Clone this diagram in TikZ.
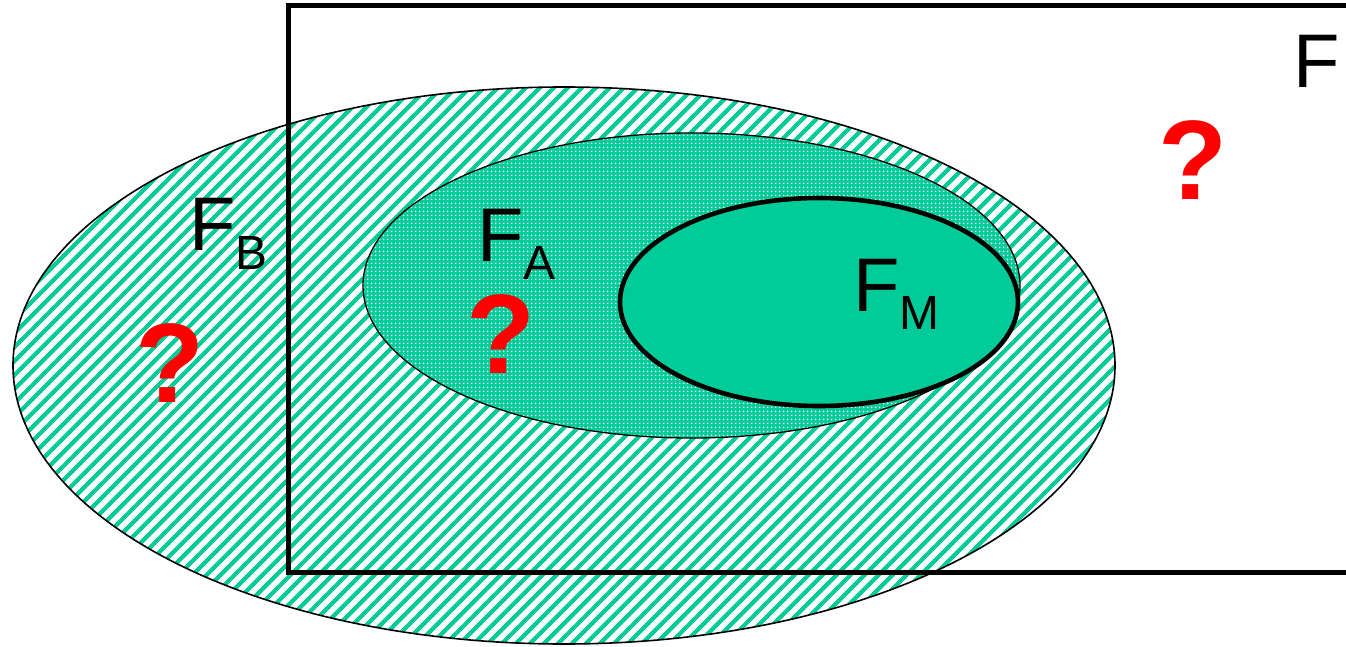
\documentclass[tikz,border=0pt]{standalone}
\usepackage{fontspec}
\setmainfont{Liberation Sans}
\usetikzlibrary{patterns.meta}
\definecolor{setteal}{RGB}{0,204,153}
\definecolor{qred}{RGB}{255,0,0}
\tikzset{
  biglabel/.style={anchor=base west, inner sep=0pt, font=\fontsize{76}{76}\selectfont},
  qmark/.style={anchor=base west, inner sep=0pt, text=qred, font=\fontsize{113}{113}\selectfont\bfseries},
  hatchset/.style={pattern={Lines[angle=45,distance=10.5pt,line width=4.6pt]}, pattern color=setteal},
  dotset/.style={preaction={fill=setteal}, pattern={Dots[radius=1.1pt,distance=4pt]}, pattern color=white},
}
\newcommand{\subl}[1]{\raisebox{-18pt}{\fontsize{48}{48}\selectfont #1}}
\begin{document}
\begin{tikzpicture}[x=1pt,y=-1pt]
\useasboundingbox (0,0) rectangle (1346,647);
\clip (0,0) rectangle (1346,647);
% F_B ellipse (hatched)
\path[hatchset] (564,365.5) ellipse [x radius=551, y radius=278.5];
\draw[line width=1.6pt] (564,365.5) ellipse [x radius=551, y radius=278.5];
% F rectangle
\draw[line width=5pt] (288,6) rectangle (1360,572);
% F_A ellipse (dotted)
\path[dotset] (691.5,285.5) ellipse [x radius=328.5, y radius=152.5];
\draw[line width=1.3pt] (691.5,285.5) ellipse [x radius=328.5, y radius=152.5];
% F_M ellipse (solid)
\draw[line width=4.6pt, fill=setteal] (819,302) ellipse [x radius=199, y radius=104];
% labels
\node[biglabel] (lF)  at (1293,88)  {F};
\node[biglabel] (lFB) at (189,251)  {F\subl{B}};
\node[biglabel] (lFA) at (477,261)  {F\subl{A}};
\node[biglabel] (lFM) at (853,311)  {F\subl{M}};
% question marks
\node[qmark] (q1) at (1158,200) {?};
\node[qmark] (q2) at (466,373)  {?};
\node[qmark] (q3) at (135,402)  {?};
\end{tikzpicture}
\end{document}
